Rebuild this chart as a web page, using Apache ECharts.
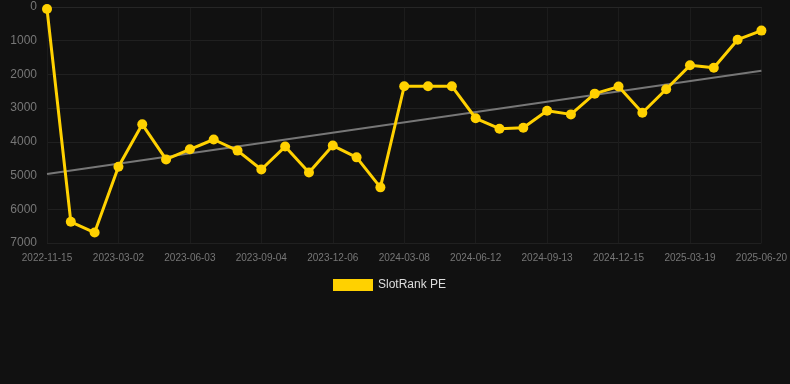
<!DOCTYPE html>
<html><head><meta charset="utf-8">
<script src="https://cdn.jsdelivr.net/npm/echarts@6/dist/echarts.min.js"></script>
<style>html,body{margin:0;padding:0;background:#111111;}#c{width:790px;height:384px;}</style>
</head><body><div id="c"></div>
<script>
var categories = ['2022-11-15','2022-12-21','2023-01-26','2023-03-02','2023-04-02','2023-05-03','2023-06-03','2023-07-04','2023-08-04','2023-09-04','2023-10-05','2023-11-05','2023-12-06','2024-01-06','2024-02-06','2024-03-08','2024-04-09','2024-05-11','2024-06-12','2024-07-13','2024-08-13','2024-09-13','2024-10-14','2024-11-14','2024-12-15','2025-01-15','2025-02-16','2025-03-19','2025-04-19','2025-05-20','2025-06-20'];
var rankValues = [60,6370,6690,4740,3480,4520,4220,3930,4260,4820,4140,4910,4110,4460,5350,2350,2350,2350,3300,3610,3580,3075,3185,2570,2360,3135,2440,1730,1800,970,700];
var trendStart = 4950;
var trendEnd = 1890;
var yTicks = [0,1000,2000,3000,4000,5000,6000,7000];

var trendData = categories.map(function(c,i){ return i===0 ? trendStart : (i===categories.length-1 ? trendEnd : null); });

var chart = echarts.init(document.getElementById('c'), null, {renderer:'canvas'});
chart.setOption({
  backgroundColor:'#111111',
  animation:false,
  grid:{left:47,right:28,top:7,bottom:141,containLabel:false},
  legend:{
    data:[{name:'SlotRank PE',icon:'rect'}],
    bottom:88,left:328,itemWidth:40,itemHeight:12,itemGap:6,
    textStyle:{color:'#dddddd',fontSize:12,fontFamily:'Liberation Sans, Arial, sans-serif'}
  },
  xAxis:{
    type:'category',data:categories,boundaryGap:false,
    axisLine:{show:true,lineStyle:{color:'#262626'}},
    axisTick:{show:false},
    axisLabel:{interval:2,color:'#777777',fontSize:10,margin:10,fontFamily:'Liberation Sans, Arial, sans-serif'},
    splitLine:{show:true,interval:2,lineStyle:{color:'#1c1c1c'}}
  },
  yAxis:{
    type:'value',inverse:true,min:yTicks[0],max:yTicks[yTicks.length-1],interval:1000,
    axisLine:{show:false},axisTick:{show:false},
    axisLabel:{color:'#777777',fontSize:12,margin:10,fontFamily:'Liberation Sans, Arial, sans-serif',
      formatter:function(v){return String(v);}},
    splitLine:{show:true,lineStyle:{color:'#202020'}}
  },
  series:[
    {name:'Trend',type:'line',data:trendData,connectNulls:true,symbol:'none',
     lineStyle:{color:'#777777',width:2},z:1,silent:true},
    {name:'SlotRank PE',type:'line',data:rankValues,symbol:'circle',symbolSize:10,
     itemStyle:{color:'#FFD100'},lineStyle:{color:'#FFD100',width:3},z:2}
  ]
});
</script></body></html>
